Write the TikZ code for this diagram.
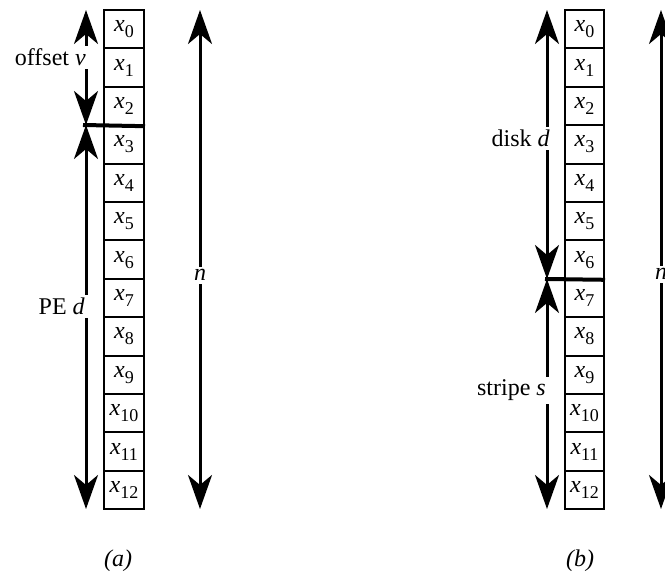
\documentclass[tikz,border=0pt]{standalone}
\usepackage{fontspec}
\setmainfont{Liberation Serif}
\usetikzlibrary{arrows.meta}
\newcommand{\xsub}[1]{\textit{x}\raisebox{-6pt}{\fontsize{18}{18}\selectfont #1}}
\begin{document}
\begin{tikzpicture}[x=1pt,y=-1pt,
  font=\fontsize{24}{28}\selectfont,
  cell/.style={draw,line width=2pt,minimum width=40pt,minimum height=38.4pt,inner sep=0pt},
  dimarrow/.style={line width=3pt,{Stealth[length=34pt,width=24pt,inset=10pt]}-{Stealth[length=34pt,width=24pt,inset=10pt]}},
  sepline/.style={line width=4pt},
  lbl/.style={fill=white,inner sep=3pt},
  captext/.style={font=\fontsize{24}{28}\selectfont\itshape}]
\useasboundingbox (0,0) rectangle (665,577);
% (a)
\foreach \i in {0,...,12}{
  \node[cell] (a\i) at (124,{10+38.4*(\i+0.5)}) {\xsub{\i}};
}
\coordinate (atop) at (86,10);
\coordinate (amid) at (86,125);
\coordinate (abot) at (86,509);
\coordinate (asl) at (83,125);
\coordinate (ntopa) at (200,10);
\coordinate (nbota) at (200,509);
\draw[dimarrow] (atop) -- (amid);
\draw[dimarrow] (amid) -- (abot);
\draw[dimarrow] (ntopa) -- (nbota);
\draw[sepline] (asl) -- (a2.south east);
\node[lbl,anchor=base east] (lv) at (89,66) {offset \textit{v}};
\node[lbl,anchor=base east] (ld) at (88,315) {PE \textit{d}};
\node[lbl,anchor=base] (lna) at (200,281) {\textit{n}};
\node[captext,anchor=base] (capa) at (118,567) {(a)};
% (b)
\foreach \i in {0,...,12}{
  \node[cell,minimum width=39pt] (b\i) at (584.5,{10+38.4*(\i+0.5)}) {\xsub{\i}};
}
\coordinate (btop) at (547,10);
\coordinate (bmid) at (547,279);
\coordinate (bbot) at (547,509);
\coordinate (bsl) at (545,279);
\coordinate (ntopb) at (661,10);
\coordinate (nbotb) at (661,509);
\draw[dimarrow] (btop) -- (bmid);
\draw[dimarrow] (bmid) -- (bbot);
\draw[dimarrow] (ntopb) -- (nbotb);
\draw[sepline] (bsl) -- (b6.south east);
\node[lbl,anchor=base east] (ldisk) at (553,147) {disk \textit{d}};
\node[lbl,anchor=base east] (lstripe) at (549,396) {stripe \textit{s}};
\node[lbl,anchor=base] (lnb) at (661,280) {\textit{n}};
\node[captext,anchor=base] (capb) at (580,567) {(b)};
\end{tikzpicture}
\end{document}
